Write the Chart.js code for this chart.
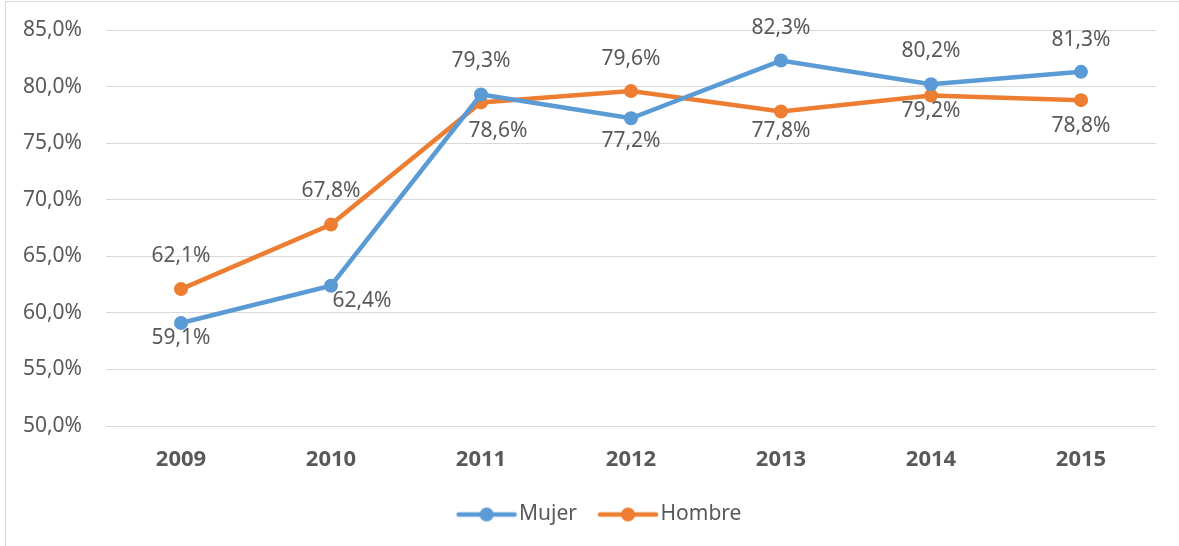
<!DOCTYPE html>
<html>
<head>
<meta charset="utf-8">
<script src="https://cdn.jsdelivr.net/npm/chart.js@4/dist/chart.umd.min.js"></script>
<style>
html,body{margin:0;padding:0;background:#fff;}
#wrap{position:relative;width:1179px;height:546px;}
</style>
</head>
<body>
<div id="wrap"><canvas id="c" width="1179" height="546"></canvas></div>
<script>
const categories = ['2009','2010','2011','2012','2013','2014','2015'];
const mujer = [59.1, 62.4, 79.3, 77.2, 82.3, 80.2, 81.3];
const hombre = [62.1, 67.8, 78.6, 79.6, 77.8, 79.2, 78.8];
const yTicks = [50, 55, 60, 65, 70, 75, 80, 85];

const FONT = '"Noto Sans", "Open Sans", sans-serif';
const TXT = '#595959';
const BLUE = '#5B9BD5';
const ORANGE = '#ED7D31';

function fmt(v){ return v.toFixed(1).replace('.', ',') + '%'; }

function legendIcon(color){
  const c = document.createElement('canvas');
  c.width = 70; c.height = 16;
  const x = c.getContext('2d');
  x.strokeStyle = color; x.lineWidth = 4.5; x.lineCap = 'round';
  x.beginPath(); x.moveTo(7, 8); x.lineTo(63, 8); x.stroke();
  x.fillStyle = color;
  x.beginPath(); x.arc(35, 8, 7, 0, Math.PI*2); x.fill();
  return c;
}

// label offsets (dx, dy) relative to each point, in pixels
const labelOffsets = [
  [[0,15],[31,15],[0,-33],[0,23],[0,-33],[0,-33],[0,-32]],
  [[0,-33],[0,-34],[17,29],[0,-32],[0,20],[0,15],[0,26]]
];

const frame = {
  id: 'frame',
  afterLayout(chart){
    const l = chart.legend;
    l.left += 25; l.right += 25;
  },
  beforeDraw(chart){
    const ctx = chart.ctx;
    ctx.save();
    ctx.strokeStyle = '#d9d9d9';
    ctx.lineWidth = 1;
    ctx.beginPath();
    ctx.moveTo(5.5, 546); ctx.lineTo(5.5, 1.5); ctx.lineTo(1179, 1.5);
    ctx.stroke();
    ctx.restore();
  }
};

const valueLabels = {
  id: 'valueLabels',
  afterDatasetsDraw(chart){
    const ctx = chart.ctx;
    ctx.save();
    ctx.font = '21px ' + FONT;
    ctx.fillStyle = TXT;
    ctx.textAlign = 'center';
    ctx.textBaseline = 'middle';
    chart.data.datasets.forEach((ds, di) => {
      const meta = chart.getDatasetMeta(di);
      meta.data.forEach((pt, i) => {
        const off = labelOffsets[di][i];
        ctx.fillText(fmt(ds.data[i]), pt.x + off[0], pt.y + off[1]);
      });
    });
    ctx.restore();
  }
};

new Chart(document.getElementById('c'), {
  type: 'line',
  data: {
    labels: categories,
    datasets: [
      { label: 'Mujer', data: mujer, borderColor: BLUE, backgroundColor: BLUE,
        borderWidth: 4.5, pointRadius: 7, pointHoverRadius: 7, pointBackgroundColor: BLUE,
        pointBorderWidth: 0, tension: 0, pointStyle: 'circle' },
      { label: 'Hombre', data: hombre, borderColor: ORANGE, backgroundColor: ORANGE,
        borderWidth: 4.5, pointRadius: 7, pointHoverRadius: 7, pointBackgroundColor: ORANGE,
        pointBorderWidth: 0, tension: 0, pointStyle: 'circle' }
    ]
  },
  options: {
    responsive: false,
    animation: false,
    layout: { padding: { left: 0, right: 23, top: 30, bottom: 11 } },
    plugins: {
      tooltip: { enabled: false },
      legend: {
        position: 'bottom',
        labels: {
          usePointStyle: true,
          pointStyleWidth: 44,
          padding: 29,
          color: TXT,
          font: { family: FONT, size: 21 },
          generateLabels(chart){
            return chart.data.datasets.map((ds, i) => ({
              text: ds.label,
              pointStyle: legendIcon(ds.borderColor),
              fillStyle: ds.borderColor,
              strokeStyle: ds.borderColor,
              lineWidth: 0,
              fontColor: TXT,
              hidden: false,
              datasetIndex: i
            }));
          }
        }
      }
    },
    scales: {
      x: {
        offset: true,
        grid: { display: false, drawTicks: false },
        border: { display: false },
        ticks: { color: TXT, padding: 21, font: { family: FONT, size: 22, weight: 'bold' } },
        afterFit(s){ s.height = 49; }
      },
      y: {
        min: 50, max: 85,
        afterBuildTicks(s){ s.ticks = yTicks.map(v => ({ value: v })); },
        grid: { color: '#d9d9d9', lineWidth: 1, drawTicks: false },
        border: { display: false },
        ticks: { color: TXT, padding: 24, font: { family: FONT, size: 21 },
          callback: v => fmt(v) },
        afterFit(s){ s.width = 106; s.paddingTop = 0; s.paddingBottom = 0; }
      }
    }
  },
  plugins: [frame, valueLabels]
});
</script>
</body>
</html>
